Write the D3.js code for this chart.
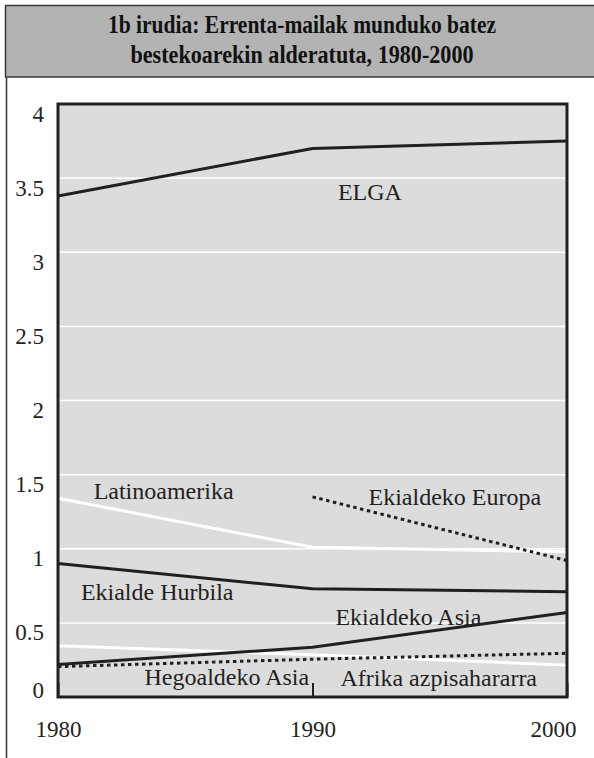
<!DOCTYPE html>
<html>
<head>
<meta charset="utf-8">
<script src="https://cdn.jsdelivr.net/npm/d3@7"></script>
<style>
  html, body { margin: 0; padding: 0; background: #fff; }
  svg { display: block; }
</style>
</head>
<body>
<div id="vis"></div>
<script>

/* Data */
/* ---- */

var years = [1980, 1990, 2000];
var yTicks = [0, 0.5, 1, 1.5, 2, 2.5, 3, 3.5, 4];

var elga = [3.38, 3.70, 3.75];
var latinoamerika = [1.34, 1.01, 0.98];
var ekialdeHurbila = [0.90, 0.73, 0.71];
var ekialdekoEuropa = [null, 1.35, 0.92];
var ekialdekoAsia = [0.22, 0.335, 0.57];
var hegoaldekoAsia = [0.205, 0.255, 0.295];
var afrikaAzpisahararra = [0.345, 0.285, 0.215];

var titleLines = ['1b irudia: Errenta-mailak munduko batez', 'bestekoarekin alderatuta, 1980-2000'];


/* Globals */
/* ------- */

var vis = {};
vis.dims = { width: 594, height: 758 };
vis.plot = { left: 58, right: 567, top: 104, bottom: 697 };
vis.scale = {};
vis.ink = '#231f20';
vis.font = '"Liberation Serif", "Times New Roman", serif';

// series: style + where the label sits (in data units, converted through the scales)
vis.series = [
  { name: 'ELGA', values: elga, stroke: 'black', label: [1991.0, 3.35] },
  { name: 'Latinoamerika', values: latinoamerika, stroke: 'white', label: [1981.4, 1.335] },
  { name: 'Ekialdeko Europa', values: ekialdekoEuropa, stroke: 'dotted', label: [1992.2, 1.295] },
  { name: 'Ekialde Hurbila', values: ekialdeHurbila, stroke: 'black', label: [1980.9, 0.655] },
  { name: 'Afrika azpisahararra', values: afrikaAzpisahararra, stroke: 'white', label: [1991.1, 0.074] },
  { name: 'Hegoaldeko Asia', values: hegoaldekoAsia, stroke: 'dotted', label: [1983.4, 0.081] },
  { name: 'Ekialdeko Asia', values: ekialdekoAsia, stroke: 'black', label: [1990.9, 0.486] }
];


/* Setup */
/* ----- */

function setupVisual() {

  vis.svg = d3.select('#vis')
    .append('svg')
      .attr('width', vis.dims.width)
      .attr('height', vis.dims.height);

  vis.scale.x = d3.scaleLinear().domain([1980, 2000]).range([vis.plot.left, vis.plot.right]);
  vis.scale.y = d3.scaleLinear().domain([0, 4]).range([vis.plot.bottom, vis.plot.top]);

} // setupVisual()

function drawFrame() {

  // left rule of the page frame
  vis.svg.append('line')
    .attr('x1', 6.5).attr('x2', 6.5)
    .attr('y1', 77).attr('y2', vis.dims.height)
    .attr('stroke', '#333').attr('stroke-width', 1.5);

  // title band
  vis.svg.append('rect')
    .attr('x', 5.5).attr('y', 5.5)
    .attr('width', vis.dims.width)
    .attr('height', 71.5)
    .attr('fill', '#b3b3b3')
    .attr('stroke', '#3a3a3a')
    .attr('stroke-width', 1.5);

  var widths = [388, 343];

  vis.svg.selectAll('.title')
    .data(titleLines)
    .enter().append('text')
      .attr('class', 'title')
      .attr('x', 302)
      .attr('y', function(d, i) { return 33 + i * 30; })
      .attr('text-anchor', 'middle')
      .attr('textLength', function(d, i) { return widths[i]; })
      .attr('lengthAdjust', 'spacingAndGlyphs')
      .style('font-family', vis.font)
      .style('font-weight', 'bold')
      .style('font-size', '26px')
      .style('fill', '#111')
      .text(function(d) { return d; });

} // drawFrame()


/* Chart */
/* ----- */

function drawGrid() {

  var p = vis.plot;

  vis.svg.append('rect')
    .attr('x', p.left).attr('y', p.top)
    .attr('width', p.right - p.left)
    .attr('height', p.bottom - p.top)
    .attr('fill', '#dcdcdd');

  vis.svg.append('g').attr('class', 'grid')
    .selectAll('line')
    .data(yTicks.filter(function(d) { return d > 0 && d < 4; }))
    .enter().append('line')
      .attr('x1', p.left).attr('x2', p.right)
      .attr('y1', function(d) { return vis.scale.y(d); })
      .attr('y2', function(d) { return vis.scale.y(d); })
      .attr('stroke', '#fff')
      .attr('stroke-width', 1.5);

} // drawGrid()

function drawLines() {

  var line = d3.line()
    .defined(function(d) { return d.v != null; })
    .x(function(d) { return vis.scale.x(d.year); })
    .y(function(d) { return vis.scale.y(d.v); });

  var g = vis.svg.append('g').attr('id', 'lines-g');

  g.selectAll('path')
    .data(vis.series)
    .enter().append('path')
      .attr('d', function(s) {
        return line(years.map(function(y, i) { return { year: y, v: s.values[i] }; }));
      })
      .attr('fill', 'none')
      .attr('stroke', function(s) { return s.stroke === 'white' ? '#fff' : vis.ink; })
      .attr('stroke-width', 3)
      .attr('stroke-dasharray', function(s) { return s.stroke === 'dotted' ? '3.5,3.5' : null; });

} // drawLines()

function drawLabels() {

  vis.svg.append('g').attr('id', 'labels-g')
    .selectAll('text')
    .data(vis.series)
    .enter().append('text')
      .attr('x', function(s) { return vis.scale.x(s.label[0]); })
      .attr('y', function(s) { return vis.scale.y(s.label[1]); })
      .style('font-family', vis.font)
      .style('font-size', '24px')
      .style('fill', vis.ink)
      .text(function(s) { return s.name; });

} // drawLabels()

function drawAxes() {

  var p = vis.plot;

  // border of the plot
  vis.svg.append('rect')
    .attr('x', p.left).attr('y', p.top)
    .attr('width', p.right - p.left)
    .attr('height', p.bottom - p.top)
    .attr('fill', 'none')
    .attr('stroke', vis.ink)
    .attr('stroke-width', 3);

  // x axis: short ticks pointing into the plot
  var xAxis = vis.svg.append('g')
    .attr('transform', 'translate(0,' + p.bottom + ')')
    .call(d3.axisBottom(vis.scale.x).tickValues(years).tickFormat(d3.format('d')).tickSize(-14).tickPadding(24));

  xAxis.select('.domain').remove();
  xAxis.selectAll('.tick line').attr('stroke', vis.ink).attr('stroke-width', 2);
  xAxis.selectAll('.tick text')
    .style('font-family', vis.font)
    .style('font-size', '23px')
    .style('fill', vis.ink)
    .filter(function(d) { return d === 2000; })
      .attr('text-anchor', 'end')
      .attr('x', 9);

  // y axis: labels hang below their gridline
  var yAxis = vis.svg.append('g')
    .attr('transform', 'translate(' + p.left + ',0)')
    .call(d3.axisLeft(vis.scale.y).tickValues(yTicks).tickFormat(function(d) { return d; }).tickSize(0).tickPadding(14));

  yAxis.select('.domain').remove();
  yAxis.selectAll('.tick text')
    .attr('dy', function(d) { return d === 0 ? 0 : '0.74em'; })
    .style('font-family', vis.font)
    .style('font-size', '23px')
    .style('fill', vis.ink);

} // drawAxes()


/* Run */
/* --- */

setupVisual();
drawFrame();
drawGrid();
drawLines();
drawLabels();
drawAxes();

</script>
</body>
</html>
